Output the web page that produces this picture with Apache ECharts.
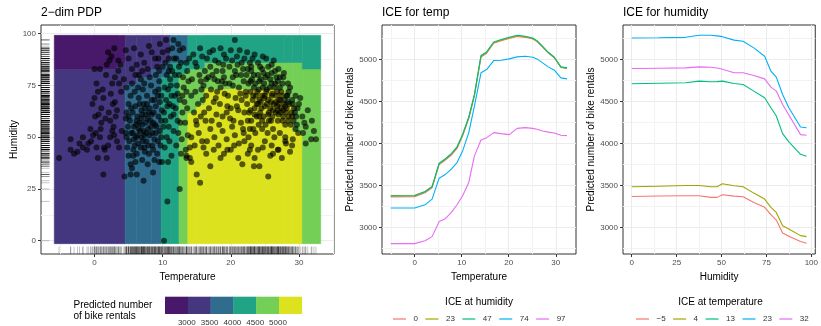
<!DOCTYPE html>
<html>
<head>
<meta charset="utf-8">
<script src="https://cdn.jsdelivr.net/npm/echarts@6.0.0/dist/echarts.min.js"></script>
<style>
  html, body { margin: 0; padding: 0; background: #fff; }
  #chart { width: 821px; height: 326px; }
</style>
</head>
<body>
<div id="chart"></div>
<script>
const FONT = '"Liberation Sans", Arial, sans-serif';

// PDP heatmap bins (level -> colour) and colour-step legend breaks
const pdpColors = ['#48186A', '#45377F', '#2F6C8E', '#21A385', '#74CF56', '#DCE21E'];
const pdpBreaks = [3000, 3500, 4000, 4500, 5000];

// PDP tiles: [tempFrom, tempTo, humFrom, humTo, level]
const pdpTiles = [
  [-5.9, 3.3, 82.6, 99.2, 0], [-5.9, 3.3, -1.4, 82.6, 1],
  [3.3, 4.5, 85.8, 99.2, 0], [3.3, 4.5, -1.4, 85.8, 1],
  [4.5, 6.2, 75.5, 99.2, 1], [4.5, 6.2, -1.4, 75.5, 2],
  [6.2, 8.4, 78.9, 99.2, 1], [6.2, 8.4, -1.4, 78.9, 2],
  [8.4, 9.8, 82.6, 99.2, 1], [8.4, 9.8, -1.4, 82.6, 2],
  [9.8, 11.1, 85.8, 99.2, 1], [9.8, 11.1, 78.9, 85.8, 2], [9.8, 11.1, -1.4, 78.9, 3],
  [11.1, 12.4, 85.8, 99.2, 2], [11.1, 12.4, -1.4, 85.8, 3],
  [12.4, 13.7, 85.8, 99.2, 2], [12.4, 13.7, 80.5, 85.8, 3], [12.4, 13.7, -1.4, 80.5, 4],
  [13.7, 15.0, 82.6, 99.2, 3], [13.7, 15.0, 61.5, 82.6, 4], [13.7, 15.0, -1.4, 61.5, 5],
  [15.0, 16.2, 82.6, 99.2, 3], [15.0, 16.2, 65.5, 82.6, 4], [15.0, 16.2, -1.4, 65.5, 5],
  [16.2, 27.9, 85.8, 99.2, 3], [16.2, 27.9, 73.0, 85.8, 4], [16.2, 27.9, -1.4, 73.0, 5],
  [27.9, 29.1, 85.8, 99.2, 3], [27.9, 29.1, 65.5, 85.8, 4], [27.9, 29.1, -1.4, 65.5, 5],
  [29.1, 30.5, 85.8, 99.2, 3], [29.1, 30.5, 52.5, 85.8, 4], [29.1, 30.5, -1.4, 52.5, 5],
  [30.5, 33.2, 82.6, 99.2, 3], [30.5, 33.2, -1.4, 82.6, 4]
];

// observed days: [temperature, humidity]
const pdpPoints = [
  [-5.2,40],[-3.5,49],[-3.5,44],[-3.0,42],[-2.2,47],[-1.7,50],[-1.7,45],[-1.1,44],[-0.9,47],[-0.6,54],
  [-0.2,51],[0.3,45],[0.5,40],[0.1,60],[0.6,61],[0.9,54],[0.8,50],[1.3,32],[1.8,40],[1.4,45],
  [2.0,46],[2.3,50],[1.6,59],[2.3,58],[2.8,55],[3.3,48],[2.6,53],[1.0,57],[-0.5,48],[2.9,51],
  [3.6,45],[1.5,44],[-2.5,43],[0.2,52],[2.1,62],[3.1,60],
  [0.0,69],[1.3,69],[2.4,71],[3.0,67],[3.3,63],[0.3,76],[1.7,80],[3.0,79],[0.8,83],[0.0,83],
  [2.0,91],[2.9,93],[2.2,87],[3.5,87],[3.5,82],[4.6,92],[4.3,78],[4.7,74],[3.9,72],[4.6,59],
  [4.0,53],[1.2,73],[2.6,76],[-0.3,66],[3.8,85],[2.7,66],[0.5,72],[1.8,85],[2.5,89],[3.6,76],[1.0,64],
  [4.4,31],[5.3,32],[6.2,32],[7.2,29],[5.5,35],[5.0,41],[5.7,41],[8.6,33],[4.7,50],
  [4.8,45],[5.1,48],[5.4,52],[5.8,55],[6.1,50],[6.4,47],[6.7,53],[7.0,56],[7.3,51],[7.6,48],
  [7.9,54],[8.2,58],[8.5,52],[8.8,49],[9.1,55],[9.4,60],[9.7,46],[5.2,58],[5.6,62],[6.0,65],
  [6.3,60],[6.6,57],[6.9,63],[7.2,66],[7.5,61],[7.8,59],[8.1,64],[8.4,68],[8.7,62],[9.0,65],
  [9.3,70],[9.6,67],[5.0,66],[5.3,70],[5.9,72],[6.5,69],[7.1,73],[7.7,70],[8.3,75],[8.9,72],
  [9.5,77],[5.5,76],[6.8,78],[4.9,55],[5.7,44],[6.2,42],[6.8,45],[7.4,43],[8.0,42],[8.6,44],
  [9.2,42],[9.8,50],[6.0,38],[7.0,39],[7.8,37],[8.8,39],[9.5,38],[5.3,37],[6.5,54],[7.5,57],
  [8.3,55],[9.0,52],[6.3,51],[7.1,48],[7.9,46],[5.8,49],[8.6,57],[9.3,48],[4.7,62],[6.1,56],
  [7.4,64],[8.0,62],[6.6,66],[5.4,64],[9.8,58],[9.9,63],[8.5,46],[7.2,53],[6.9,59],[5.6,52],
  [4.6,52],[5.0,60],[7.7,66],[8.8,68],[9.4,73],[6.4,74],[7.3,76],[6.0,80],[8.1,79],[9.0,80],
  [6.9,50],[7.6,52],[8.1,51],[6.2,58],[7.0,61],[8.4,61],[5.9,46],[7.3,45],[8.9,56],[9.6,53],
  [5.0,88],[5.5,83],[6.2,85],[6.8,90],[7.3,86],[7.8,83],[8.4,91],[8.9,88],[9.6,95],[10.0,91],
  [10.4,86],[10.8,92],[11.1,84],[5.8,93],[7.0,82],[9.2,84],[6.5,80],[8.0,94],[11.6,97],[10.5,97],
  [9.9,38],[10.8,38],[11.3,41],[10.7,19],[10.2,0],[12.5,25],[10.3,45],[10.6,50],[10.9,55],[11.2,60],
  [11.5,65],[11.8,70],[12.1,75],[12.4,80],[12.7,86],[13.0,93],[12.5,92],[10.2,62],[10.5,68],[10.8,73],
  [11.1,78],[11.4,82],[11.7,88],[12.0,46],[12.3,52],[12.6,57],[12.9,62],[13.2,67],[13.5,72],[13.8,77],
  [10.1,55],[10.4,58],[11.0,48],[11.6,53],[12.2,58],[12.8,49],[13.4,44],[13.7,51],[10.7,65],[11.3,70],
  [11.9,64],[12.5,68],[13.1,74],[13.6,82],[13.9,88],[10.9,82],[12.0,88],[11.4,93],[13.3,57],[12.7,42],
  [13.5,40],[14.0,45],
  [9.4,88],[10.0,84],[10.6,80],[11.2,75],[11.8,80],[12.4,84],[13.0,79],[13.5,86],[9.8,70],[10.3,74],
  [11.0,66],[11.6,61],[12.2,71],[12.9,70],[13.6,64],[10.9,88],[12.3,95],[9.5,82],
  [14.5,90],[15.5,93],[16.5,88],[17.4,92],[18.2,86],[19.0,90],[19.8,84],[20.6,97],[21.3,92],[22.0,88],
  [22.8,86],[23.5,90],[24.3,84],[25.2,88],[26.0,85],[17.0,84],[18.8,82],[20.2,87],[21.8,83],[23.0,82],
  [15.0,84],[16.2,82],[24.8,81],[26.5,82],[27.2,79],
  [14.8,86],[15.8,89],[16.9,91],[17.7,87],[18.5,93],[19.3,88],[20.0,92],[20.9,89],[21.6,86],[22.4,91],
  [23.2,88],[24.0,86],[24.7,89],[25.5,84],[26.3,87],[27.0,83],[27.8,81],[16.4,78],[17.3,80],[18.1,77],
  [19.0,79],[19.8,76],[20.6,82],[21.5,80],[22.5,83],[23.4,80],[24.2,77],[25.1,79],[26.0,81],[26.9,77],
  [27.7,79],[28.4,76],[15.6,77],[18.9,85],[21.0,85],[22.9,77],[24.6,83],[26.7,79],[20.3,79],[17.9,82],
  [14.3,78],[14.8,72],[15.2,66],[15.6,60],[16.0,75],[16.4,70],[16.8,64],[17.2,58],[17.6,78],[18.0,72],
  [18.4,66],[18.8,60],[19.2,76],[19.6,70],[20.0,64],[20.4,58],[20.8,80],[21.2,74],[21.6,68],[22.0,62],
  [14.6,62],[15.0,56],[15.4,80],[15.9,68],[16.3,58],[16.7,79],[17.1,73],[17.5,67],[17.9,61],[18.3,56],
  [18.7,77],[19.1,71],[19.5,65],[19.9,59],[20.3,75],[20.7,69],[21.1,63],[21.5,57],[21.9,77],[14.2,70],
  [14.9,58],[16.1,62],[17.8,69],[19.4,62],[20.9,65],[22.2,70],[15.7,73],[18.5,74],[21.4,71],
  [14.2,50],[14.7,46],[15.3,52],[15.8,48],[16.4,42],[17.0,54],[17.6,50],[18.2,46],[18.8,53],[19.4,49],
  [20.0,44],[20.6,51],[21.2,47],[21.8,54],[14.0,40],[13.5,41],[14.2,38],[17.0,36],[15.0,32],[15.5,28],
  [21.1,40],[21.7,37],[16.0,45],[19.0,42],[20.2,55],
  [22.3,80],[22.6,76],[22.9,72],[23.2,68],[23.5,64],[23.8,60],[24.1,56],[24.4,78],[24.7,74],[25.0,70],
  [25.3,66],[25.6,62],[25.9,58],[26.2,54],[26.5,76],[26.8,72],[27.1,68],[27.4,64],[27.7,60],[28.0,56],
  [28.3,70],[28.6,66],[28.9,62],[29.2,58],[29.5,54],[22.4,66],[22.7,62],[23.0,58],[23.3,54],[23.6,76],
  [23.9,72],[24.2,68],[24.5,64],[24.8,60],[25.1,56],[25.4,80],[25.7,74],[26.0,70],[26.3,66],[26.6,62],
  [26.9,58],[27.2,74],[27.5,70],[27.8,66],[28.1,62],[28.4,58],[28.7,74],[29.0,68],[29.3,64],[29.6,60],
  [22.2,72],[22.5,58],[22.8,54],[23.1,78],[23.4,74],[23.7,70],[24.0,66],[24.3,62],[24.6,58],[24.9,76],
  [25.2,72],[25.5,68],[25.8,64],[26.1,60],[26.4,74],[26.7,70],[27.0,66],[27.3,62],[27.6,58],[27.9,68],
  [28.2,64],[28.5,60],[28.8,56],[29.1,66],[29.4,62],[29.7,56],[23.3,70],[24.1,73],[25.0,65],[25.9,67],
  [26.6,67],[27.3,68],[28.0,65],[23.8,66],[24.6,70],[25.5,61],[26.2,63],[27.0,61],[27.7,63],[28.4,67],
  [29.0,60],[24.4,67],[25.3,73],[26.8,65],[22.9,63],[26.0,76],[27.6,76],[24.0,80],[25.8,78],[23.0,84],
  [28.5,72],[30.2,69],[29.8,64],[29.9,52],[28.0,50],[27.2,52],[26.4,50],[25.4,52],[24.6,54],[23.6,52],
  [22.6,50],[21.9,52],[24.9,69],[26.1,71],[27.4,72],[23.5,61],[25.6,58],[26.9,63],[28.2,70],[24.2,60],
  [22.0,48],[23.0,46],[24.0,44],[25.0,48],[26.0,46],[27.0,44],[28.0,48],[29.0,46],[22.5,42],[23.5,40],
  [24.7,45],[26.2,42],[26.9,44],[28.1,47],[29.1,49],[24.2,36],[25.5,31],[23.4,36],[25.8,41],[27.5,40],
  [28.7,43],[22.8,44],[20.5,46],[19.5,44],[18.5,40],[17.5,44],[16.5,48],
  [31.0,47],[31.8,49],[32.5,49],[31.9,58],[31.0,55],[30.5,60],[30.0,66],[29.5,70],[30.6,52],[32.2,53],
  [31.3,63],[30.8,57]
];

// ICE for temp: grid of temperatures and one curve per humidity level
const tempGrid = [-5.1, 0, 2.2, 3.7, 5.2, 6.4, 7.8, 9.0, 10.2, 11.5, 12.7, 14.1, 15.3, 16.8, 18.4, 20.1, 21.8, 23.5, 25.1, 26.0, 27.2, 28.4, 29.7, 31.1, 32.4];
const iceHumLevels = ['0', '23', '47', '74', '97'];
const iceTempHum0  = [3363, 3366, 3412, 3470, 3748, 3796, 3862, 3940, 4090, 4296, 4565, 5030, 5075, 5195, 5225, 5252, 5275, 5265, 5245, 5214, 5148, 5080, 5020, 4905, 4895];
const iceTempHum23 = [3380, 3382, 3428, 3487, 3760, 3808, 3874, 3952, 4102, 4308, 4577, 5040, 5084, 5203, 5232, 5259, 5283, 5271, 5251, 5220, 5153, 5084, 5024, 4908, 4898];
const iceTempHum47 = [3373, 3376, 3424, 3483, 3764, 3812, 3879, 3958, 4109, 4315, 4584, 5048, 5091, 5210, 5238, 5265, 5289, 5277, 5257, 5226, 5158, 5087, 5028, 4913, 4901];
const iceTempHum74 = [3230, 3230, 3268, 3337, 3586, 3626, 3693, 3772, 3911, 4129, 4446, 4842, 4881, 4988, 4992, 5008, 5032, 5040, 5028, 5008, 4960, 4913, 4873, 4782, 4770];
const iceTempHum97 = [2806, 2806, 2840, 2889, 3068, 3099, 3178, 3269, 3376, 3535, 3852, 4042, 4069, 4129, 4117, 4105, 4180, 4188, 4180, 4170, 4149, 4135, 4125, 4097, 4093];

// ICE for humidity: grid of humidities and one curve per temperature level
const humGrid = [0, 15, 30, 37.5, 44, 47.5, 50.5, 57, 62, 68, 74, 77.5, 80.5, 84, 87.5, 94, 97.3];
const iceTempLevels = ['\u22125', '4', '13', '23', '32'];
const iceHumTempM5 = [3368, 3374, 3376, 3376, 3357, 3357, 3388, 3372, 3364, 3297, 3238, 3151, 3087, 2933, 2893, 2830, 2810];
const iceHumTemp4  = [3483, 3490, 3499, 3499, 3483, 3483, 3519, 3495, 3483, 3408, 3337, 3238, 3178, 3020, 2980, 2901, 2889];
const iceHumTemp13 = [4711, 4717, 4723, 4743, 4735, 4737, 4743, 4715, 4703, 4624, 4545, 4426, 4327, 4117, 4018, 3871, 3848];
const iceHumTemp23 = [5257, 5260, 5265, 5289, 5289, 5282, 5273, 5232, 5218, 5139, 5040, 4861, 4790, 4584, 4426, 4196, 4188];
const iceHumTemp32 = [4893, 4897, 4901, 4913, 4909, 4900, 4885, 4842, 4842, 4810, 4770, 4671, 4624, 4465, 4339, 4105, 4097];

const hueColors = ['#F8766D', '#A3A500', '#00BF7D', '#00B0F6', '#E76BF3'];

const chart = echarts.init(document.getElementById('chart'));

const plain = (v) => String(v);

function xAxes(gi, min, max, majors, minors, name) {
  return [
    {
      type: 'value', gridIndex: gi, min, max, position: 'bottom',
      name, nameLocation: 'middle', nameGap: 16,
      nameTextStyle: { fontSize: 10, color: '#000', fontFamily: FONT },
      axisLine: { show: false, onZero: false },
      axisTick: { show: true, length: 3, lineStyle: { color: '#333' }, customValues: majors },
      axisLabel: { fontSize: 8, color: '#4D4D4D', margin: 5, fontFamily: FONT, customValues: majors, formatter: plain },
      splitLine: { show: true, lineStyle: { color: '#EBEBEB', width: 1 } }
    },
    {
      type: 'value', gridIndex: gi, min, max, position: 'top',
      axisLine: { show: false, onZero: false },
      axisTick: { show: false, customValues: minors },
      axisLabel: { show: false },
      splitLine: { show: true, lineStyle: { color: '#F3F3F3', width: 1 } }
    }
  ];
}

function yAxes(gi, min, max, majors, minors, name, nameGap) {
  return [
    {
      type: 'value', gridIndex: gi, min, max, position: 'left',
      name, nameLocation: 'middle', nameGap,
      nameTextStyle: { fontSize: 10, color: '#000', fontFamily: FONT },
      axisLine: { show: false, onZero: false },
      axisTick: { show: true, length: 3, lineStyle: { color: '#333' }, customValues: majors },
      axisLabel: { fontSize: 8, color: '#4D4D4D', margin: 5, fontFamily: FONT, customValues: majors, formatter: plain },
      splitLine: { show: true, lineStyle: { color: '#EBEBEB', width: 1 } }
    },
    {
      type: 'value', gridIndex: gi, min, max, position: 'right',
      axisLine: { show: false, onZero: false },
      axisTick: { show: false, customValues: minors },
      axisLabel: { show: false },
      splitLine: { show: true, lineStyle: { color: '#F3F3F3', width: 1 } }
    }
  ];
}

function iceSeries(prefix, names, grid, curves, xi, yi) {
  return curves.map((vals, i) => ({
    name: prefix + names[i],
    type: 'line',
    xAxisIndex: xi, yAxisIndex: yi,
    data: grid.map((x, k) => [x, vals[k]]),
    showSymbol: false, symbol: 'none',
    itemStyle: { color: hueColors[i] },
    lineStyle: { color: hueColors[i], width: 1.1 },
    z: 3 + i
  }));
}

const gridStyle = { show: true, backgroundColor: '#fff', borderColor: '#333', borderWidth: 1 };

const legendBase = {
  orient: 'horizontal', top: 315, padding: 0, icon: 'rect',
  itemWidth: 13, itemHeight: 1.2, itemGap: 7.5, selectedMode: false,
  textStyle: { fontSize: 8, color: '#333', fontFamily: FONT, padding: [0, 0, 0, 2.5] },
  formatter: (n) => n.slice(1)
};

const graphics = [
  { type: 'text', x: 479, y: 302, style: { text: 'ICE at humidity', font: '10px ' + FONT, fill: '#000', textAlign: 'center', textVerticalAlign: 'middle' } },
  { type: 'text', x: 720.5, y: 302, style: { text: 'ICE at temperature', font: '10px ' + FONT, fill: '#000', textAlign: 'center', textVerticalAlign: 'middle' } },
  { type: 'text', x: 73.5, y: 311, style: { text: 'Predicted number\nof bike rentals', font: '10px ' + FONT, fill: '#000', lineHeight: 11, textVerticalAlign: 'middle' } }
];
const barLeft = 165, barTop = 296.7, swatchW = 22.8, swatchH = 17.3;
pdpColors.forEach((c, i) => {
  graphics.push({ type: 'rect', shape: { x: barLeft + i * swatchW, y: barTop, width: swatchW + 0.3, height: swatchH }, style: { fill: c } });
});
pdpBreaks.forEach((b, i) => {
  graphics.push({ type: 'text', x: barLeft + (i + 1) * swatchW - 1, y: 322.7, style: { text: String(b), font: '8px ' + FONT, fill: '#333', textAlign: 'center', textVerticalAlign: 'middle' } });
});

const titleStyle = { fontSize: 12, fontWeight: 'normal', color: '#000', fontFamily: FONT };

chart.setOption({
  animation: false,
  textStyle: { fontFamily: FONT },
  title: [
    { text: '2\u2212dim PDP', left: 41, top: 7, padding: 0, textStyle: titleStyle },
    { text: 'ICE for temp', left: 382, top: 7, padding: 0, textStyle: titleStyle },
    { text: 'ICE for humidity', left: 623, top: 7, padding: 0, textStyle: titleStyle }
  ],
  grid: [
    Object.assign({ left: 41, top: 25, width: 293, height: 229 }, gridStyle),
    Object.assign({ left: 382, top: 25, width: 194, height: 229 }, gridStyle),
    Object.assign({ left: 623, top: 25, width: 195, height: 229 }, gridStyle)
  ],
  xAxis: [
    ...xAxes(0, -7.85, 35.15, [0, 10, 20, 30], [-5, 5, 15, 25, 35], 'Temperature'),
    ...xAxes(1, -6.95, 34.3, [0, 10, 20, 30], [-5, 5, 15, 25], 'Temperature'),
    ...xAxes(2, -4.86, 102.2, [0, 25, 50, 75, 100], [12.5, 37.5, 62.5, 87.5], 'Humidity')
  ],
  yAxis: [
    ...yAxes(0, -6.4, 104.2, [0, 25, 50, 75, 100], [12.5, 37.5, 62.5, 87.5], 'Humidity', 22),
    ...yAxes(1, 2682, 5412, [3000, 3500, 4000, 4500, 5000], [2750, 3250, 3750, 4250, 4750, 5250], 'Predicted number of bike rentals', 27),
    ...yAxes(2, 2682, 5412, [3000, 3500, 4000, 4500, 5000], [2750, 3250, 3750, 4250, 4750, 5250], 'Predicted number of bike rentals', 27)
  ],
  legend: [
    Object.assign({ left: 393, data: iceHumLevels.map((n) => 'H' + n) }, legendBase),
    Object.assign({ left: 636, data: iceTempLevels.map((n) => 'T' + n) }, legendBase)
  ],
  graphic: graphics,
  series: [
    {
      type: 'custom', xAxisIndex: 0, yAxisIndex: 0, data: pdpTiles,
      encode: { x: [0, 1], y: [2, 3] }, z: 1,
      renderItem(params, api) {
        const a = api.coord([api.value(0), api.value(3)]);
        const b = api.coord([api.value(1), api.value(2)]);
        const c = pdpColors[api.value(4)];
        return { type: 'rect', shape: { x: a[0], y: a[1], width: b[0] - a[0], height: b[1] - a[1] }, style: { fill: c, stroke: c, lineWidth: 0.6 } };
      }
    },
    {
      type: 'scatter', xAxisIndex: 0, yAxisIndex: 0, data: pdpPoints, z: 2,
      symbolSize: 6, itemStyle: { color: '#000', opacity: 0.62 }
    },
    {
      type: 'custom', xAxisIndex: 0, yAxisIndex: 0, data: pdpPoints, z: 3,
      renderItem(params, api) {
        const cs = params.coordSys;
        const p = api.coord([api.value(0), api.value(1)]);
        const st = { stroke: 'rgba(0,0,0,0.3)', lineWidth: 0.8 };
        return {
          type: 'group', children: [
            { type: 'line', shape: { x1: p[0], y1: cs.y + cs.height, x2: p[0], y2: cs.y + cs.height - 7.5 }, style: st },
            { type: 'line', shape: { x1: cs.x, y1: p[1], x2: cs.x + 8.5, y2: p[1] }, style: st }
          ]
        };
      }
    },
    ...iceSeries('H', iceHumLevels, tempGrid, [iceTempHum0, iceTempHum23, iceTempHum47, iceTempHum74, iceTempHum97], 2, 2),
    ...iceSeries('T', iceTempLevels, humGrid, [iceHumTempM5, iceHumTemp4, iceHumTemp13, iceHumTemp23, iceHumTemp32], 4, 4)
  ]
});
</script>
</body>
</html>
